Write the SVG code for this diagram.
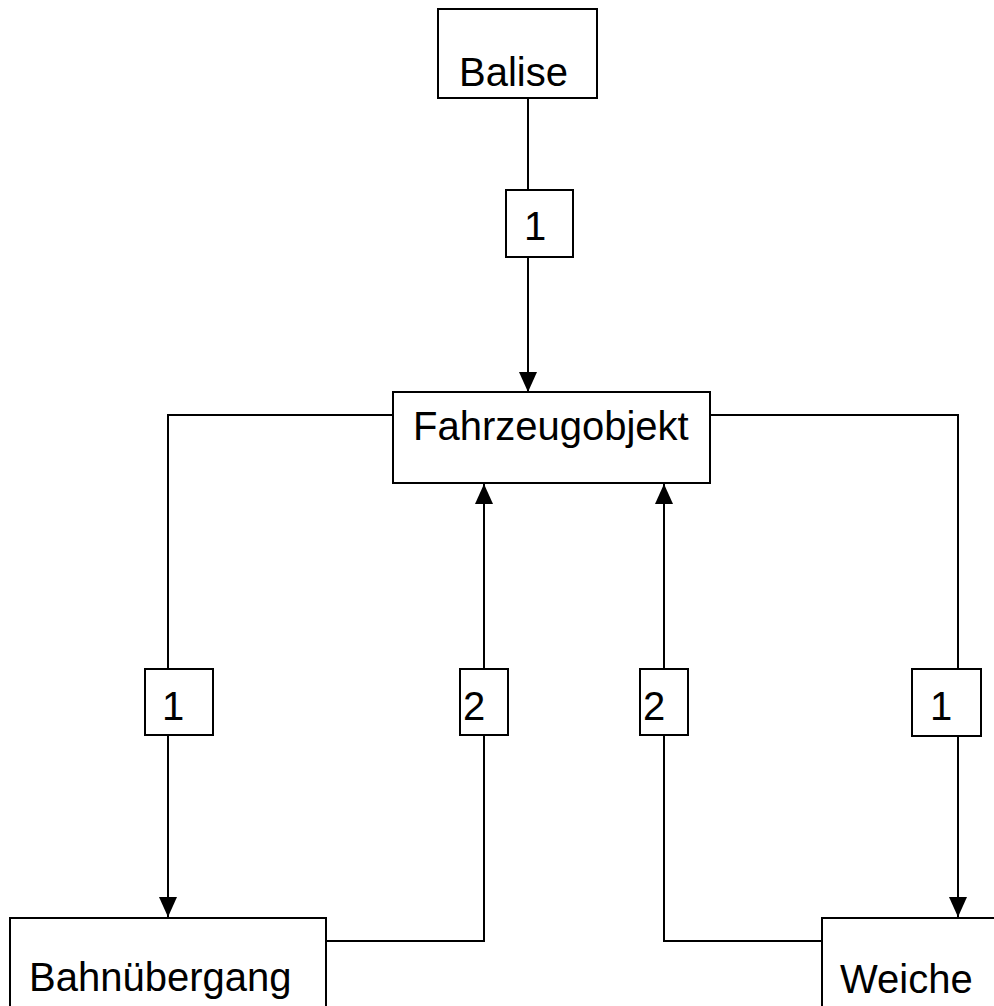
<svg xmlns="http://www.w3.org/2000/svg" width="994" height="1006" viewBox="0 0 994 1006">
<defs>
<marker id="ah" markerWidth="20" markerHeight="20" refX="20" refY="9" orient="auto" markerUnits="userSpaceOnUse">
<path d="M0,0 L20,9 L0,18 Z" fill="#000"/>
</marker>
<style>
.box{fill:#fff;stroke:#000;stroke-width:2}
.t{font-family:"Liberation Sans",Arial,sans-serif;font-size:40px;fill:#000}
.c{fill:none;stroke:#000;stroke-width:2}
</style>
</defs>
<rect width="994" height="1006" fill="#fff"/>
<g id="connectors">
<path class="c" d="M528,98 V392" marker-end="url(#ah)"/>
<path class="c" d="M393,415 H168 V917" marker-end="url(#ah)"/>
<path class="c" d="M710,415 H958 V917" marker-end="url(#ah)"/>
<path class="c" d="M326,941 H484 V484" marker-end="url(#ah)"/>
<path class="c" d="M822,941 H664 V484" marker-end="url(#ah)"/>
</g>
<g id="balise"><rect class="box" x="438" y="9" width="159" height="89"/><text class="t" x="459" y="86">Balise</text></g>
<g id="fahrzeugobjekt"><rect class="box" x="393" y="392" width="317" height="91"/><text class="t" x="413" y="440">Fahrzeugobjekt</text></g>
<g id="bahnuebergang"><rect class="box" x="10" y="918" width="316" height="100"/><text class="t" x="29" y="991">Bahnübergang</text></g>
<g id="weiche"><rect class="box" x="822" y="918" width="190" height="100"/><text class="t" x="840" y="993">Weiche</text></g>
<g id="label-top"><rect class="box" x="506" y="190" width="67" height="67"/><text class="t" x="524" y="240">1</text></g>
<g id="label-left1"><rect class="box" x="145" y="669" width="68" height="66"/><text class="t" x="162" y="720">1</text></g>
<g id="label-left2"><rect class="box" x="460" y="669" width="48" height="66"/><text class="t" x="463" y="720">2</text></g>
<g id="label-right2"><rect class="box" x="640" y="669" width="48" height="66"/><text class="t" x="643" y="720">2</text></g>
<g id="label-right1"><rect class="box" x="912" y="669" width="69" height="67"/><text class="t" x="930" y="720">1</text></g>
</svg>
